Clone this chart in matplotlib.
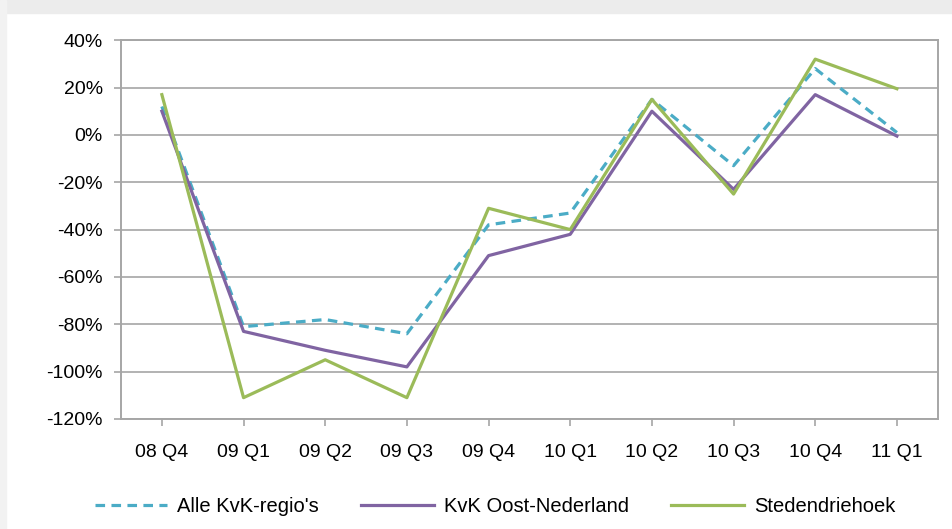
import matplotlib.pyplot as plt
import matplotlib.patches as mpatches
import numpy as np

plt.rcParams['font.family'] = ['Liberation Sans', 'DejaVu Sans']

quarters = ['08 Q4', '09 Q1', '09 Q2', '09 Q3', '09 Q4', '10 Q1', '10 Q2', '10 Q3', '10 Q4', '11 Q1']
alle = [12, -81, -78, -84, -38, -33, 15, -13, 28, 1]
oost = [10, -83, -91, -98, -51, -42, 10, -23, 17, -0.5]
steden = [17, -111, -95, -111, -31, -40, 15, -25, 32, 19.5]

fig = plt.figure(figsize=(9.53, 5.29), dpi=100)
# grey shadow band at top/left like the screenshot
fig.patches.append(mpatches.Rectangle((0, 0.975), 1, 0.025, transform=fig.transFigure,
                                      color='#ececec', zorder=-1))
fig.patches.append(mpatches.Rectangle((0, 0), 0.006, 1, transform=fig.transFigure,
                                      color='#f2f2f2', zorder=-1))

ax = fig.add_axes([0.127, 0.208, 0.857, 0.716])
x = np.arange(len(quarters))
grey = '#a6a6a6'

ax.plot(x, alle, color='#4bacc6', lw=2.3, ls=(0, (3, 2)), label="Alle KvK-regio's")
ax.plot(x, oost, color='#8064a2', lw=2.3, label='KvK Oost-Nederland')
ax.plot(x, steden, color='#9bbb59', lw=2.3, label='Stedendriehoek')

ax.set_xlim(-0.5, len(quarters) - 0.5)
ax.set_ylim(-120, 40)
ax.set_yticks(np.arange(-120, 41, 20))
ax.set_yticklabels([f'{v}%' for v in range(-120, 41, 20)])
ax.set_xticks(x)
ax.set_xticklabels(quarters)
ax.yaxis.grid(True, color=grey, lw=1.2)
ax.set_axisbelow(True)
for s in ax.spines.values():
    s.set_color(grey)
    s.set_linewidth(1.4)
ax.tick_params(axis='both', colors=grey, length=5, width=1.2, labelsize=14,
               labelcolor='black')
ax.tick_params(axis='x', pad=13)
ax.tick_params(axis='y', pad=8)

ax.legend(loc='center', bbox_to_anchor=(0.458, -0.232), ncol=3, frameon=False,
          fontsize=14.5, handlelength=3.6, columnspacing=2.1, handletextpad=0.5)

fig.savefig('out.png', dpi=100)
